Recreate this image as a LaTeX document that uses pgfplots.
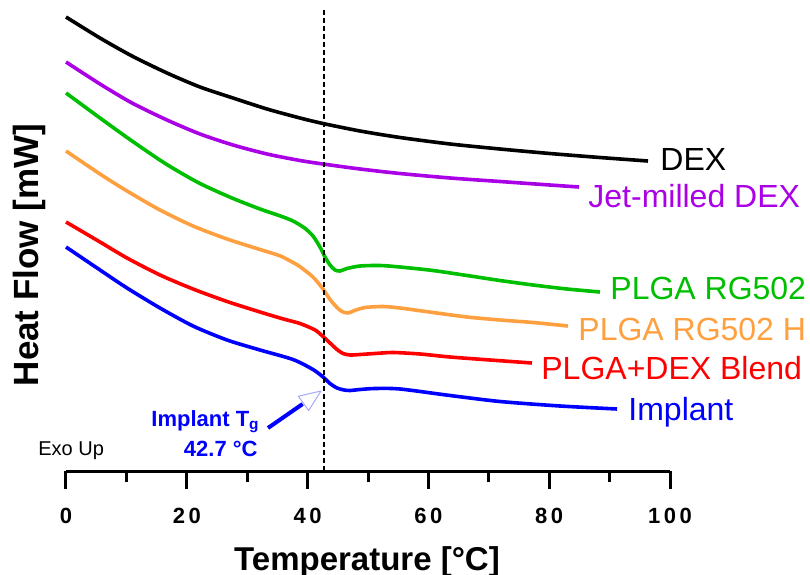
\documentclass[border=0pt]{standalone}
\usepackage{fontspec}
\setmainfont{Liberation Sans}
\usepackage{pgfplots}
\pgfplotsset{compat=1.18}

\definecolor{cpurple}{RGB}{170,0,230}
\definecolor{cgreen}{RGB}{0,190,0}
\definecolor{corange}{RGB}{255,160,64}
\definecolor{cred}{RGB}{255,0,0}
\definecolor{cblue}{RGB}{0,0,255}
\definecolor{chead}{RGB}{165,170,255}

\begin{document}
\begin{tikzpicture}
% page = 810x575 px, 1 px = 0.5 bp, axis origin at px (66,471)
\useasboundingbox (-33bp,-52bp) rectangle (372bp,235.5bp);
\begin{axis}[
  at={(0,0)}, anchor=south west,
  x=3.02bp, y=0.5bp,
  xmin=0, xmax=100, ymin=0, ymax=465,
  axis x line=bottom, axis y line=none,
  x axis line style={-, line width=1.5bp},
  xtick={0,20,...,100}, minor xtick={10,30,...,90},
  xticklabels={0, 2\kern1.8bp 0, 4\kern1.8bp 0, 6\kern1.8bp 0, 8\kern1.8bp 0, 1\kern1.8bp 0\kern1.8bp 0},
  xticklabel style={font=\bfseries\fontsize{11bp}{13bp}\selectfont, yshift=-6bp},
  tick align=outside,
  major tick length=9bp, minor tick length=5.5bp,
  tick style={line width=1.5bp, black},
  minor tick style={line width=1.5bp, black},
  clip=false,
  every axis plot/.append style={line width=1.8bp, smooth, tension=0.45},
]
% DEX
\addplot[black] coordinates {
 (0,454)(5.63,433)(10.93,415)(16.72,398)(22.19,384)(27.65,373)(33.28,362)(38.74,353)
 (42.55,347.5)(48.68,340)(55.3,333.5)(63.6,327)(71.85,322)(80.1,317.5)(88.4,313.5)(96.36,310)
};
% Jet-milled DEX
\addplot[cpurple] coordinates {
 (0,409)(5.63,387)(10.93,368)(16.72,351)(22.19,337)(27.65,326)(33.28,317)(38.74,310.5)
 (42.55,307)(48.68,302)(55.3,297.5)(63.6,293)(71.85,289.5)(80.1,286)(84.93,284)
};
% PLGA RG502
\addplot[cgreen] coordinates {
 (0,378)(5.63,353)(10.93,330)(16.56,307)(22.02,288)(27.48,273)(32.12,262)(35.5,255)
 (37.58,250)(39.5,243)(40.89,235)(42.05,224)(42.88,214)(43.71,206)(44.54,201)(45.36,200)
 (46.52,202.5)(48.68,205)(51.99,205.5)(55.3,204)(60.76,200.5)(66.39,195.5)(71.85,190.5)
 (77.32,186)(82.95,182)(88.41,179)
};
% PLGA RG502 H
\addplot[corange] coordinates {
 (0,320)(5.63,297)(10.1,280)(15.56,261)(21.03,245)(26.66,232)(32.12,221.5)(35.5,215)
 (37.58,208.5)(38.7,204.5)(40.89,194)(42.55,182)(43.71,171.5)(44.87,163.5)(45.7,159.5)
 (46.69,158)(48.01,161)(49.5,163.5)(52.48,164.5)(55.3,163)(60.76,158.5)(66.39,154)
 (71.85,151)(77.32,148.5)(83.11,145)
};
% PLGA+DEX Blend
\addplot[cred] coordinates {
 (0,249)(5.63,229)(10.1,213)(15.56,196)(21.03,182)(26.66,169.5)(32.12,159)(36,152)
 (38.74,147.5)(41.23,141)(42.55,134.5)(43.71,128)(44.87,121.5)(45.86,117.5)(47.02,116)
 (48.68,116.5)(51.16,117.5)(54.14,118.5)(58.61,117)(63.58,114)(70.2,111)(77.15,108)
};
% Implant
\addplot[cblue] coordinates {
 (0,224)(5.63,201)(10.1,183)(15.56,163)(21.03,145)(26.66,131)(32.12,121)(37.58,111.5)
 (40.89,101.5)(42.55,94)(43.71,87.5)(44.87,83)(46.03,81)(47.02,80.5)(48.68,81.5)(51.16,82.5)
 (55.3,82)(63.58,75.5)(71.85,69.5)(81.79,65)(91.23,62)
};
% Tg marker
\draw[black, line width=0.75bp, dash pattern=on 2.5bp off 1.5bp] (axis cs:42.7,0) -- (axis cs:42.7,461);
\end{axis}

% series labels
\begin{scope}[every node/.style={inner sep=0pt, anchor=base west, font=\fontsize{16bp}{19bp}\selectfont}]
\node[text=black]   at (297bp,150bp)  {DEX};
\node[text=cpurple] at (261bp,131.5bp) {Jet-milled DEX};
\node[text=cgreen]  at (272bp,85.5bp)  {PLGA RG502};
\node[text=corange] at (256bp,65bp)  {PLGA RG502 H};
\node[text=cred]    at (237.5bp,45.5bp) {PLGA+DEX Blend};
\node[text=cblue]   at (281bp,25.5bp) {Implant};
\end{scope}

% axis titles
\node[inner sep=0pt, anchor=base, font=\bfseries\fontsize{16.5bp}{20bp}\selectfont] at (150.5bp,-49.5bp) {Temperature [°C]};
\node[inner sep=0pt, anchor=base, rotate=90, font=\bfseries\fontsize{17.5bp}{21bp}\selectfont] at (-14bp,108bp) {Heat Flow [mW]};

% Exo Up
\node[inner sep=0pt, anchor=base west, font=\fontsize{10bp}{12bp}\selectfont] at (-14bp,8bp) {Exo Up};

% Tg annotation
\node[inner sep=0pt, anchor=base east, text=cblue, font=\bfseries\fontsize{11bp}{13bp}\selectfont] at (97bp,22.5bp) {Implant T\textsubscript{g}};
\node[inner sep=0pt, anchor=base east, text=cblue, font=\bfseries\fontsize{11bp}{13bp}\selectfont] at (96bp,7.5bp) {42.7 °C};
\draw[cblue, line width=2bp] (101bp,21.5bp) -- (118.3bp,33.5bp);
\draw[chead, fill=white, line width=0.5bp, line join=round] (127.5bp,40bp) -- (121.3bp,30.2bp) -- (116.2bp,37.4bp) -- cycle;
\end{tikzpicture}
\end{document}
